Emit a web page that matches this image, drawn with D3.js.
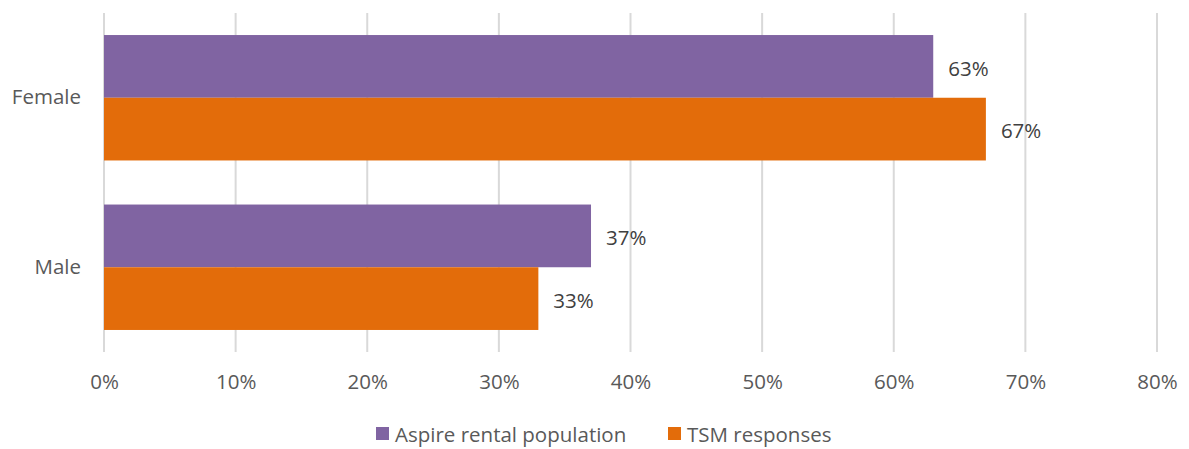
<!DOCTYPE html>
<html><head><meta charset="utf-8">
<script src="https://cdn.jsdelivr.net/npm/d3@7"></script>
<style>body{margin:0;background:#fff;} text{font-family:"Open Sans",sans-serif;}</style>
</head><body><svg id="c" width="1189" height="449"></svg>
<script>
const categories = ["Female", "Male"];
const seriesNames = ["Aspire rental population", "TSM responses"];
const aspireValues = [0.63, 0.37];
const tsmValues = [0.67, 0.33];
const tickValues = [0, 0.1, 0.2, 0.3, 0.4, 0.5, 0.6, 0.7, 0.8];
const colors = ["#8064A2", "#E36C0A"];
const fs = "20.5px";

const svg = d3.select("#c");
const x = d3.scaleLinear().domain([0, 0.8]).range([104, 1157]);
const y = d3.scaleBand().domain(categories).range([13, 352]).paddingInner(0.26).paddingOuter(0.13);
const ySub = d3.scaleBand().domain(seriesNames).range([0, y.bandwidth()]);

// grid
svg.append("g").selectAll("line").data(tickValues).join("line")
  .attr("x1", d => x(d)).attr("x2", d => x(d)).attr("y1", 13).attr("y2", 352)
  .attr("stroke", "#D9D9D9").attr("stroke-width", 2);

const xAxis = svg.append("g").attr("transform", "translate(0,352)")
  .call(d3.axisBottom(x).tickValues(tickValues).tickFormat(d3.format(".0%")).tickSize(0).tickPadding(22));
xAxis.select(".domain").remove();
xAxis.selectAll("text").attr("fill", "#595959").style("font-size", fs);

const yAxis = svg.append("g").attr("transform", "translate(104,0)")
  .call(d3.axisLeft(y).tickSize(0).tickPadding(23));
yAxis.select(".domain").remove();
yAxis.selectAll("text").attr("fill", "#595959").style("font-size", fs);

const rows = [];
categories.forEach((c, i) => {
  rows.push({cat: c, s: seriesNames[0], v: aspireValues[i], col: colors[0]});
  rows.push({cat: c, s: seriesNames[1], v: tsmValues[i], col: colors[1]});
});

svg.append("g").selectAll("rect").data(rows).join("rect")
  .attr("x", x(0)).attr("y", d => y(d.cat) + ySub(d.s))
  .attr("width", d => x(d.v) - x(0)).attr("height", ySub.bandwidth())
  .attr("fill", d => d.col);

svg.append("g").selectAll("text").data(rows).join("text")
  .attr("x", d => x(d.v) + 15).attr("y", d => y(d.cat) + ySub(d.s) + ySub.bandwidth() / 2 + 2)
  .attr("dy", "0.35em").attr("fill", "#404040").style("font-size", fs)
  .text(d => d3.format(".0%")(d.v));

// legend
const legend = svg.append("g");
const lx = [376, 668];
seriesNames.forEach((s, i) => {
  legend.append("rect").attr("x", lx[i]).attr("y", 427).attr("width", 13).attr("height", 13).attr("fill", colors[i]);
  legend.append("text").attr("x", lx[i] + 19).attr("y", 435).attr("dy", "0.35em")
    .attr("fill", "#595959").style("font-size", fs).text(s);
});
</script></body></html>
